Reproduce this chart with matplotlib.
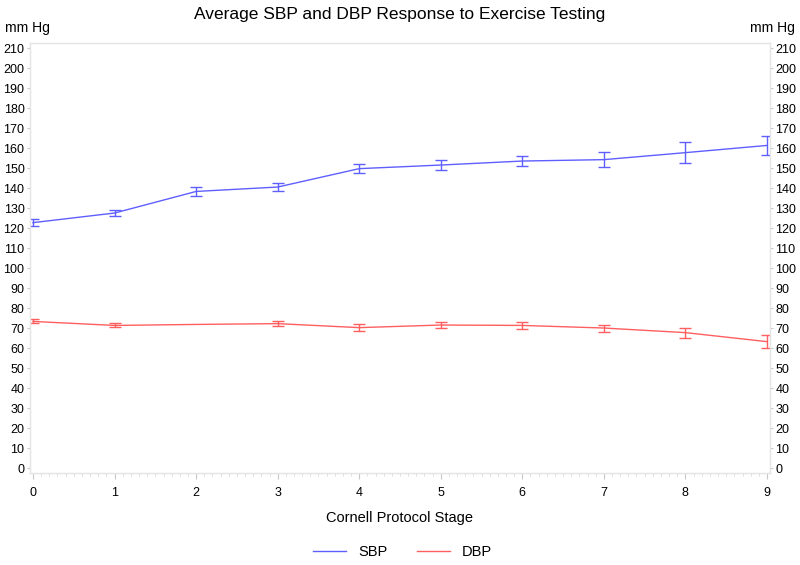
import numpy as np
import matplotlib.pyplot as plt
from matplotlib.ticker import MultipleLocator

plt.rcParams['font.family'] = ['Liberation Sans', 'DejaVu Sans']

stages = [0, 1, 2, 3, 4, 5, 6, 7, 8, 9]
sbp_mean = [122.7, 127.5, 138.3, 140.5, 149.7, 151.5, 153.5, 154.2, 157.7, 161.3]
sbp_err = [1.6, 1.6, 2.2, 1.9, 2.2, 2.4, 2.7, 3.8, 5.4, 4.9]
dbp_mean = [73.3, 71.3, 71.8, 72.2, 70.2, 71.5, 71.3, 70.0, 67.7, 63.2]
dbp_err = [1.0, 1.0, np.nan, 1.2, 1.6, 1.7, 1.9, 1.75, 2.5, 3.3]
y_ticks = list(range(0, 220, 10))

blue = '#5F5FFF'
red = '#FF5F5F'
frame_col = '#E4E4E4'

fig = plt.figure(figsize=(8, 5.65), dpi=100)
ax = fig.add_axes([0.0375, 0.1628, 0.925, 0.761])

# mean +/- error for each stage
ax.errorbar(stages, sbp_mean, yerr=sbp_err, color=blue, lw=1, capsize=4,
            elinewidth=1, capthick=1, label='SBP')
ax.errorbar(stages, dbp_mean, yerr=dbp_err, color=red, lw=1, capsize=4,
            elinewidth=1, capthick=1, label='DBP')

ax.set_xlim(-0.037, 9.037)
ax.set_ylim(-2.5, 212.5)
ax.set_xticks(stages)
ax.xaxis.set_minor_locator(MultipleLocator(0.1))
ax.set_yticks(y_ticks)

for s in ax.spines.values():
    s.set_color(frame_col)
    s.set_linewidth(1)

ax.tick_params(axis='x', which='major', length=4, color='#C8C8C8', labelsize=9, pad=6)
ax.tick_params(axis='x', which='minor', length=2.5, color='#D8D8D8')
ax.tick_params(axis='y', which='major', length=2.5, color='#C8C8C8', labelsize=9,
               left=True, right=True, labelleft=True, labelright=True, pad=1.5)

ax.set_xlabel('Cornell Protocol Stage', fontsize=10.5, labelpad=9)

fig.text(0.5, 0.975, 'Average SBP and DBP Response to Exercise Testing',
         ha='center', va='center', fontsize=12.5)
fig.text(0.006, 0.951, 'mm Hg', ha='left', va='center', fontsize=10)
fig.text(0.994, 0.951, 'mm Hg', ha='right', va='center', fontsize=10)

h1, = ax.plot([], [], color=blue, lw=1)
h2, = ax.plot([], [], color=red, lw=1)
fig.legend([h1, h2], ['SBP', 'DBP'], loc='center', bbox_to_anchor=(0.503, 0.023),
           ncol=2, frameon=False, fontsize=10.5, handlelength=2.3,
           columnspacing=2.0, handletextpad=0.8)

fig.savefig('out.png', dpi=100)
